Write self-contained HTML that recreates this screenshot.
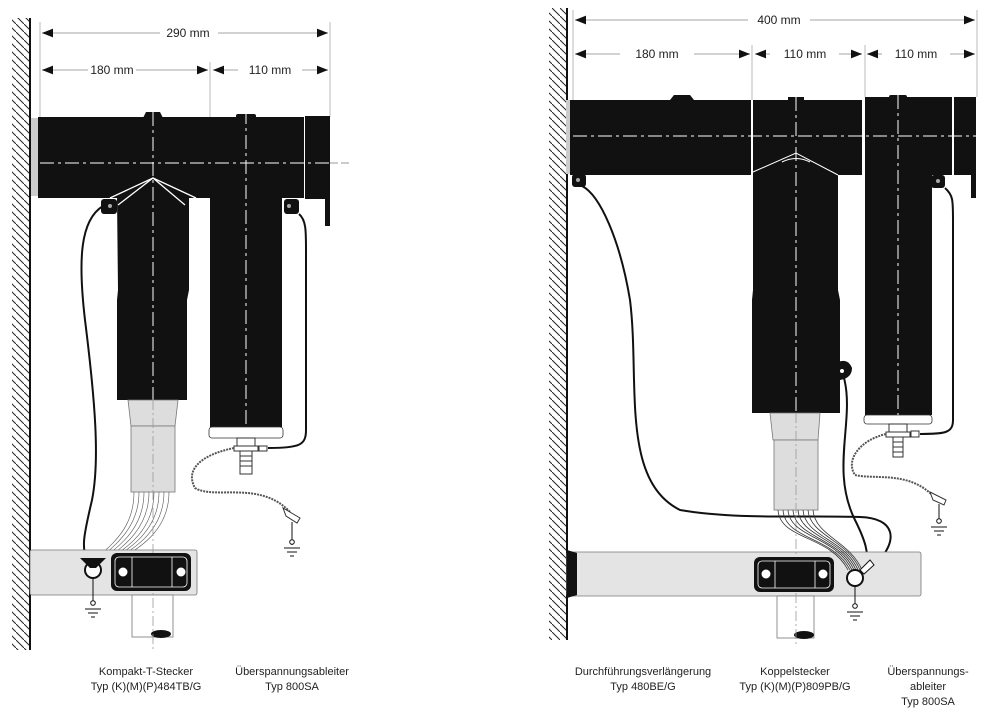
<!DOCTYPE html>
<html><head><meta charset="utf-8"><style>html,body{margin:0;padding:0;background:#fff}svg{display:block}</style></head>
<body>
<svg width="984" height="718" viewBox="0 0 984 718" xmlns="http://www.w3.org/2000/svg" font-family="Liberation Sans, sans-serif">
<defs>
<pattern id="h" width="8" height="8" patternUnits="userSpaceOnUse"><path d="M-1,-1 L9,9" stroke="#222" stroke-width="1"/></pattern>
<marker id="a" viewBox="0 0 10 10" refX="10" refY="5" markerWidth="7" markerHeight="7" orient="auto-start-reverse"><path d="M0,1 L10,5 L0,9z" fill="#111"/></marker>
</defs>
<!-- LEFT WALL -->
<rect x="12" y="18" width="18" height="632" fill="url(#h)"/>
<line x1="30" y1="18" x2="30" y2="650" stroke="#111" stroke-width="2"/>
<g stroke="#bbb" stroke-width="1"><line x1="40" y1="22" x2="40" y2="117"/><line x1="210" y1="62" x2="210" y2="117"/><line x1="330" y1="22" x2="330" y2="117"/></g>
<g stroke="#c4c4c4" stroke-width="1.6" fill="none">
<line x1="42" y1="33" x2="160" y2="33" marker-start="url(#a)"/><line x1="218" y1="33" x2="328" y2="33" marker-end="url(#a)"/>
<line x1="42" y1="70" x2="88" y2="70" marker-start="url(#a)"/><line x1="136" y1="70" x2="208" y2="70" marker-end="url(#a)"/>
<line x1="213" y1="70" x2="238" y2="70" marker-start="url(#a)"/><line x1="302" y1="70" x2="328" y2="70" marker-end="url(#a)"/>
</g>
<g font-size="12" fill="#222" text-anchor="middle"><text x="188" y="37">290 mm</text><text x="112" y="74">180 mm</text><text x="270" y="74">110 mm</text></g>
<rect x="31" y="118" width="8" height="78" fill="#ccc"/>
<rect x="38" y="117" width="172" height="81" fill="#111"/>
<path d="M143,118 L146,112 L160,112 L163,118z" fill="#111"/>
<path d="M117,198 L189,198 L189,290 L187,300 L187,400 L117,400 L117,300 L118,290z" fill="#111"/>
<path d="M110,198 L153,178 L196,198" stroke="#fff" stroke-width="1.3" fill="none"/>
<path d="M118,205 L153,178 L185,205" stroke="#fff" stroke-width="1.3" fill="none"/>
<rect x="210" y="117" width="94" height="81" fill="#111"/>
<rect x="236" y="114" width="20" height="5" rx="2" fill="#111"/>
<rect x="210" y="196" width="72" height="231" fill="#111"/>
<rect x="305" y="116" width="25" height="83" fill="#111"/>
<rect x="325" y="176" width="5" height="50" fill="#111"/>
<rect x="209" y="427" width="74" height="11" rx="3" fill="#fff" stroke="#333" stroke-width="0.8"/>
<rect x="101" y="199" width="16" height="15" rx="3" fill="#111"/><circle cx="110" cy="206" r="2" fill="#aaa"/>
<rect x="284" y="199" width="15" height="15" rx="3" fill="#111"/><circle cx="289" cy="206" r="2" fill="#aaa"/>
<g stroke="#fff" stroke-width="1" stroke-dasharray="14,4,3,4"><line x1="40" y1="163" x2="330" y2="163"/><line x1="153" y1="112" x2="153" y2="400"/><line x1="246" y1="110" x2="246" y2="427"/></g>
<line x1="330" y1="163" x2="350" y2="163" stroke="#999" stroke-dasharray="8,3"/>
<path d="M128,400 L178,400 L175,426 L131,426z" fill="#ddd" stroke="#777" stroke-width="0.8"/>
<rect x="131" y="426" width="44" height="66" fill="#ddd" stroke="#777" stroke-width="0.8"/>
<g stroke="#555" stroke-width="0.6" fill="none">
<path d="M134,492 C134,530 110,545 95,560"/><path d="M139,492 C139,530 112,547 97,561"/><path d="M144,492 C144,532 115,548 99,562"/><path d="M149,492 C149,532 118,550 101,563"/><path d="M154,492 C154,534 121,551 103,563"/><path d="M159,492 C159,534 124,552 104,564"/><path d="M164,492 C164,535 127,553 105,565"/><path d="M169,492 C169,536 130,554 106,566"/>
</g>
<path d="M103,206 C80,220 78,260 85,320 C95,400 100,460 92,500 C85,530 80,550 88,560" stroke="#111" stroke-width="2" fill="none"/>
<rect x="30" y="550" width="167" height="45" rx="2" fill="#e4e4e4" stroke="#777" stroke-width="0.8"/>
<rect x="132" y="595" width="41" height="42" fill="#fff" stroke="#777" stroke-width="0.8"/>
<ellipse cx="161" cy="634" rx="10" ry="4" fill="#111"/>
<line x1="153" y1="400" x2="153" y2="650" stroke="#999" stroke-width="0.8" stroke-dasharray="10,3,2,3"/>
<rect x="111" y="553" width="80" height="38" rx="6" fill="#111"/>
<rect x="115" y="557" width="72" height="30" rx="4" fill="none" stroke="#fff" stroke-width="0.8"/>
<line x1="132" y1="557" x2="132" y2="587" stroke="#fff" stroke-width="0.8"/><line x1="172" y1="557" x2="172" y2="587" stroke="#fff" stroke-width="0.8"/>
<circle cx="123" cy="572" r="5" fill="#fff" stroke="#111"/><circle cx="181" cy="572" r="5" fill="#fff" stroke="#111"/>
<circle cx="93" cy="570" r="8" fill="#fff" stroke="#111" stroke-width="2"/>
<path d="M80,558 L106,558 L96,568 L90,568z" fill="#111"/>
<line x1="93" y1="578" x2="93" y2="605" stroke="#111"/><circle cx="93" cy="603" r="2.3" fill="#fff" stroke="#111"/>
<g stroke="#111"><line x1="85" y1="609" x2="101" y2="609"/><line x1="88" y1="613" x2="98" y2="613"/><line x1="91" y1="617" x2="95" y2="617"/></g>
<rect x="237" y="438" width="18" height="8" fill="#fff" stroke="#333"/><rect x="234" y="446" width="24" height="5" fill="#fff" stroke="#333"/>
<rect x="259" y="446" width="8" height="5" fill="#fff" stroke="#333"/>
<path d="M240,451 L252,451 L252,474 L240,474z" fill="#fff" stroke="#333"/>
<g stroke="#333"><line x1="240" y1="456" x2="252" y2="456"/><line x1="240" y1="461" x2="252" y2="461"/><line x1="240" y1="466" x2="252" y2="466"/></g>
<path d="M299,214 C306,220 306,230 306,250 L306,430 C306,445 300,448 268,448" stroke="#111" stroke-width="2" fill="none"/>
<path d="M234,448 C200,455 185,470 195,488 C215,500 260,480 290,512" stroke="#555" stroke-width="2" stroke-dasharray="2,1" fill="none"/>
<path d="M283,508 L300,518 L297,523 L286,516z" fill="#fff" stroke="#333"/>
<line x1="292" y1="522" x2="292" y2="545" stroke="#111"/><circle cx="292" cy="542" r="2.3" fill="#fff" stroke="#111"/>
<g stroke="#111"><line x1="284" y1="548" x2="300" y2="548"/><line x1="287" y1="552" x2="297" y2="552"/><line x1="290" y1="556" x2="294" y2="556"/></g>
<g font-size="11" fill="#222" text-anchor="middle"><text x="146" y="675">Kompakt-T-Stecker</text><text x="146" y="690">Typ (K)(M)(P)484TB/G</text><text x="292" y="675">Überspannungsableiter</text><text x="292" y="690">Typ 800SA</text></g>

<!-- RIGHT WALL -->
<rect x="549" y="8" width="18" height="632" fill="url(#h)"/>
<line x1="567" y1="8" x2="567" y2="640" stroke="#111" stroke-width="2"/>
<g stroke="#bbb" stroke-width="1"><line x1="573" y1="10" x2="573" y2="100"/><line x1="752" y1="45" x2="752" y2="100"/><line x1="865" y1="45" x2="865" y2="97"/><line x1="977" y1="10" x2="977" y2="97"/></g>
<g stroke="#c4c4c4" stroke-width="1.6" fill="none">
<line x1="575" y1="20" x2="748" y2="20" marker-start="url(#a)"/><line x1="810" y1="20" x2="975" y2="20" marker-end="url(#a)"/>
<line x1="575" y1="54" x2="620" y2="54" marker-start="url(#a)"/><line x1="694" y1="54" x2="750" y2="54" marker-end="url(#a)"/>
<line x1="755" y1="54" x2="770" y2="54" marker-start="url(#a)"/><line x1="839" y1="54" x2="862" y2="54" marker-end="url(#a)"/>
<line x1="867" y1="54" x2="882" y2="54" marker-start="url(#a)"/><line x1="950" y1="54" x2="975" y2="54" marker-end="url(#a)"/>
</g>
<g font-size="12" fill="#222" text-anchor="middle"><text x="779" y="24">400 mm</text><text x="657" y="58">180 mm</text><text x="805" y="58">110 mm</text><text x="916" y="58">110 mm</text></g>
<rect x="566" y="100" width="5" height="74" fill="#ccc"/>
<rect x="570" y="100" width="181" height="75" fill="#111"/>
<path d="M670,100 L674,95 L690,95 L694,100z" fill="#111"/>
<rect x="753" y="100" width="109" height="75" fill="#111"/>
<path d="M753,173 L838,173 L838,290 L840,300 L840,413 L752,413 L752,300 L753,290z" fill="#111"/>
<path d="M753,172 L796,153 L838,175" stroke="#fff" stroke-width="1" fill="none"/><path d="M782,162 Q796,155 810,162" stroke="#fff" stroke-width="1" fill="none"/>
<path d="M788,100 Q796,104 804,100 L804,97 L788,97z" fill="#111"/>
<rect x="865" y="97" width="87" height="78" fill="#111"/>
<rect x="889" y="95" width="18" height="5" rx="2" fill="#111"/>
<rect x="865" y="174" width="67" height="241" fill="#111"/>
<rect x="864" y="415" width="68" height="9" rx="3" fill="#fff" stroke="#333" stroke-width="0.8"/>
<rect x="954" y="97" width="22" height="78" fill="#111"/>
<rect x="971" y="152" width="5" height="46" fill="#111"/>
<path d="M838,362 Q848,358 852,368 Q852,378 840,380z" fill="#111"/><circle cx="842" cy="371" r="2" fill="#fff"/>
<rect x="572" y="174" width="14" height="13" rx="3" fill="#111"/><circle cx="578" cy="180" r="2" fill="#aaa"/>
<rect x="931" y="175" width="14" height="13" rx="3" fill="#111"/><circle cx="938" cy="181" r="2" fill="#aaa"/>
<g stroke="#fff" stroke-width="1" stroke-dasharray="14,4,3,4"><line x1="573" y1="136" x2="977" y2="136"/><line x1="796" y1="97" x2="796" y2="413"/><line x1="898" y1="95" x2="898" y2="415"/></g>
<path d="M770,413 L820,413 L818,440 L773,440z" fill="#ddd" stroke="#777" stroke-width="0.8"/>
<rect x="774" y="440" width="44" height="70" fill="#ddd" stroke="#777" stroke-width="0.8"/>
<path d="M582,186 C600,195 620,240 630,300 C640,380 620,480 680,510 C740,520 800,515 860,517 C895,518 900,540 875,565" stroke="#111" stroke-width="2" fill="none"/>
<path d="M844,378 C855,420 830,470 855,520 C865,540 870,555 865,565" stroke="#111" stroke-width="2" fill="none"/>
<rect x="567" y="552" width="354" height="44" rx="2" fill="#e4e4e4" stroke="#777" stroke-width="0.8"/>
<path d="M567,550 L577,553 L577,595 L567,598z" fill="#111"/>
<rect x="777" y="596" width="37" height="42" fill="#fff" stroke="#777" stroke-width="0.8"/>
<ellipse cx="804" cy="635" rx="10" ry="4" fill="#111"/>
<line x1="796" y1="413" x2="796" y2="645" stroke="#999" stroke-width="0.8" stroke-dasharray="10,3,2,3"/>
<g stroke="#333" stroke-width="0.8" fill="none">
<path d="M778,510 C780,540 830,535 848,570"/><path d="M783,510 C785,540 833,536 850,570"/><path d="M788,510 C790,538 836,536 852,570"/><path d="M793,510 C795,538 839,537 854,570"/><path d="M798,510 C800,537 842,538 856,570"/><path d="M803,510 C805,537 845,539 858,570"/><path d="M808,510 C810,536 848,540 860,570"/><path d="M813,510 C815,536 850,541 862,570"/>
</g>
<rect x="754" y="557" width="80" height="35" rx="6" fill="#111"/>
<rect x="758" y="561" width="72" height="27" rx="4" fill="none" stroke="#fff" stroke-width="0.8"/>
<line x1="775" y1="561" x2="775" y2="588" stroke="#fff" stroke-width="0.8"/><line x1="815" y1="561" x2="815" y2="588" stroke="#fff" stroke-width="0.8"/>
<circle cx="766" cy="574" r="5" fill="#fff" stroke="#111"/><circle cx="823" cy="574" r="5" fill="#fff" stroke="#111"/>
<circle cx="855" cy="578" r="8" fill="#fff" stroke="#111" stroke-width="2"/>
<path d="M860,570 L870,560 L874,565 L864,574z" fill="#fff" stroke="#111"/>
<line x1="855" y1="586" x2="855" y2="608" stroke="#111"/><circle cx="855" cy="606" r="2.3" fill="#fff" stroke="#111"/>
<g stroke="#111"><line x1="847" y1="612" x2="863" y2="612"/><line x1="850" y1="616" x2="860" y2="616"/><line x1="853" y1="620" x2="857" y2="620"/></g>
<rect x="889" y="424" width="18" height="8" fill="#fff" stroke="#333"/><rect x="886" y="432" width="24" height="5" fill="#fff" stroke="#333"/>
<rect x="911" y="431" width="8" height="6" fill="#fff" stroke="#333"/>
<path d="M893,437 L903,437 L903,457 L893,457z" fill="#fff" stroke="#333"/>
<g stroke="#333"><line x1="893" y1="442" x2="903" y2="442"/><line x1="893" y1="447" x2="903" y2="447"/><line x1="893" y1="452" x2="903" y2="452"/></g>
<path d="M945,188 C953,195 953,200 953,220 L953,420 C953,433 945,434 920,434" stroke="#111" stroke-width="2" fill="none"/>
<path d="M886,434 C860,440 845,460 855,475 C875,480 910,470 935,498" stroke="#555" stroke-width="2" stroke-dasharray="2,1" fill="none"/>
<path d="M930,492 L946,500 L944,505 L933,500z" fill="#fff" stroke="#333"/>
<line x1="939" y1="504" x2="939" y2="523" stroke="#111"/><circle cx="939" cy="521" r="2.3" fill="#fff" stroke="#111"/>
<g stroke="#111"><line x1="931" y1="527" x2="947" y2="527"/><line x1="934" y1="531" x2="944" y2="531"/><line x1="937" y1="535" x2="941" y2="535"/></g>
<g font-size="11" fill="#222" text-anchor="middle"><text x="643" y="675">Durchführungsverlängerung</text><text x="643" y="690">Typ 480BE/G</text><text x="795" y="675">Koppelstecker</text><text x="795" y="690">Typ (K)(M)(P)809PB/G</text><text x="928" y="675">Überspannungs-</text><text x="928" y="690">ableiter</text><text x="928" y="705">Typ 800SA</text></g>
</svg>
</body></html>
